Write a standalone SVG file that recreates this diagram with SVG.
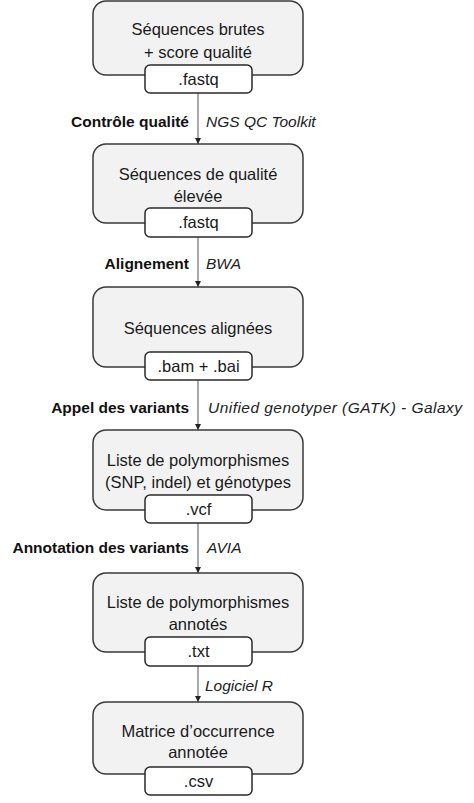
<svg xmlns="http://www.w3.org/2000/svg" width="474" height="803" viewBox="0 0 474 803">
<style>
.big{fill:#f2f2f2;stroke:#3a3a3a;stroke-width:1.5}
.small{fill:#ffffff;stroke:#2a2a2a;stroke-width:1.5}
.t{font-family:"Liberation Sans",Arial,sans-serif;font-size:16.5px;fill:#1a1a1a;text-anchor:middle}
.b{font-family:"Liberation Sans",Arial,sans-serif;font-size:15.5px;font-weight:bold;fill:#111;text-anchor:end}
.i{font-family:"Liberation Sans",Arial,sans-serif;font-size:15.5px;font-style:italic;fill:#222;text-anchor:start}
.c{stroke:#555;stroke-width:1;fill:none;marker-end:url(#ah)}
</style>
<defs>
<marker id="ah" viewBox="0 0 8 8" refX="8" refY="4" markerWidth="6" markerHeight="6" markerUnits="userSpaceOnUse" orient="auto">
<path d="M0,0 L8,4 L0,8 z" fill="#222"/>
</marker>
</defs>
<rect width="474" height="803" fill="#ffffff"/>
<g id="connectors">
<line class="c" x1="198" y1="93" x2="198" y2="144"/>
<line class="c" x1="198" y1="237" x2="198" y2="287"/>
<line class="c" x1="198" y1="380" x2="198" y2="430"/>
<line class="c" x1="198" y1="523" x2="198" y2="573"/>
<line class="c" x1="198" y1="666" x2="198" y2="702"/>
</g>
<g id="labels">
<text class="b" x="189" y="126.5">Contrôle qualité</text>
<text class="i" x="206" y="126.5" font-size="15">NGS QC Toolkit</text>
<text class="b" x="189" y="268.5">Alignement</text>
<text class="i" x="206" y="268.5">BWA</text>
<text class="b" x="189" y="412.5">Appel des variants</text>
<text class="i" x="208" y="412.5" font-size="16.4" textLength="254" lengthAdjust="spacing">Unified genotyper (GATK) - Galaxy</text>
<text class="b" x="189" y="552.5">Annotation des variants</text>
<text class="i" x="207" y="552.5">AVIA</text>
<text class="i" x="205" y="690.5" font-size="16">Logiciel R</text>
</g>
<g id="n1">
<rect class="big" x="93" y="1" width="210" height="74" rx="13"/>
<text class="t" x="198" y="35">Séquences brutes</text>
<text class="t" x="198" y="58">+ score qualité</text>
<rect class="small" x="145" y="65" width="107" height="28" rx="5"/>
<text class="t" x="198.5" y="84.5">.fastq</text>
</g>
<g id="n2">
<rect class="big" x="93" y="144" width="210" height="79" rx="13"/>
<text class="t" x="198" y="180">Séquences de qualité</text>
<text class="t" x="198" y="202">élevée</text>
<rect class="small" x="145" y="208" width="107" height="29" rx="5"/>
<text class="t" x="198.5" y="228">.fastq</text>
</g>
<g id="n3">
<rect class="big" x="93" y="287" width="210" height="80" rx="13"/>
<text class="t" x="198" y="334">Séquences alignées</text>
<rect class="small" x="145" y="352" width="107" height="28" rx="5"/>
<text class="t" x="198.5" y="371.5">.bam + .bai</text>
</g>
<g id="n4">
<rect class="big" x="93" y="430" width="210" height="80" rx="13"/>
<text class="t" x="198" y="466">Liste de polymorphismes</text>
<text class="t" x="198" y="488">(SNP, indel) et génotypes</text>
<rect class="small" x="145" y="495" width="107" height="28" rx="5"/>
<text class="t" x="198.5" y="514.5">.vcf</text>
</g>
<g id="n5">
<rect class="big" x="93" y="573" width="210" height="79" rx="13"/>
<text class="t" x="198" y="608">Liste de polymorphismes</text>
<text class="t" x="198" y="630">annotés</text>
<rect class="small" x="145" y="637" width="107" height="29" rx="5"/>
<text class="t" x="198.5" y="657">.txt</text>
</g>
<g id="n6">
<rect class="big" x="93" y="702" width="210" height="72" rx="13"/>
<text class="t" x="198" y="737">Matrice d’occurrence</text>
<text class="t" x="198" y="758">annotée</text>
<rect class="small" x="145" y="767" width="107" height="28" rx="5"/>
<text class="t" x="198.5" y="786.5">.csv</text>
</g>
</svg>
